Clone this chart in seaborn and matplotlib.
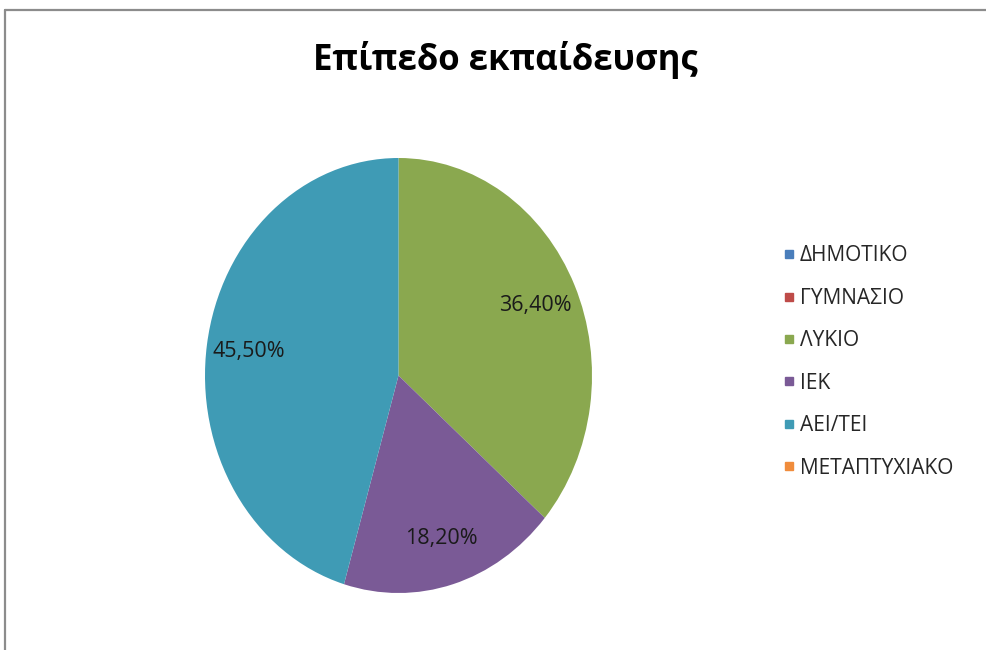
import matplotlib
matplotlib.use("Agg")
import matplotlib.pyplot as plt
import seaborn as sns
from matplotlib.lines import Line2D

# data
categories = ["ΔΗΜΟΤΙΚΟ", "ΓΥΜΝΑΣΙΟ", "ΛΥΚΙΟ", "ΙΕΚ", "ΑΕΙ/ΤΕΙ", "ΜΕΤΑΠΤΥΧΙΑΚΟ"]
shares = [0.0, 0.0, 36.4, 18.2, 45.5, 0.0]
colors = ["#4a7ebb", "#be4b48", "#8aa84f", "#7a5a96", "#3f9bb5", "#f08c3c"]
title = "Επίπεδο εκπαίδευσης"

sns.set_theme(style="white")
plt.rcParams["font.family"] = ["Open Sans", "DejaVu Sans"]

fig = plt.figure(figsize=(9.87, 6.5), dpi=100)
fig.patch.set_facecolor("white")

# pie is slightly taller than wide in the original, so no equal aspect
ax = fig.add_axes([205 / 987, 1 - 593 / 650, 387 / 987, 435 / 650])
wedges, texts, autotexts = ax.pie(
    shares, colors=colors, startangle=90, counterclock=False,
    autopct="%1.1f", pctdistance=0.78,
    wedgeprops=dict(linewidth=0),
    textprops=dict(fontsize=15.5, color="#1a1a1a"),
)
for t, v in zip(autotexts, shares):
    t.set_text("" if v == 0 else f"{v:.2f}%".replace(".", ","))
ax.set_xlim(-1, 1)
ax.set_ylim(-1, 1)
ax.set_aspect("auto")
ax.axis("off")

fig.text(505 / 987, 1 - 60 / 650, title, ha="center", va="center",
         fontsize=25, fontweight="bold", color="black")

handles = [Line2D([0], [0], marker="s", linestyle="none", markersize=6,
                  markerfacecolor=c, markeredgecolor=c) for c in colors]
fig.legend(handles, categories, loc="center left",
           bbox_to_anchor=(783 / 987, 1 - 362 / 650), frameon=False,
           fontsize=15, labelspacing=1.03, handlelength=0.6,
           handletextpad=0.2, borderpad=0, borderaxespad=0)

# chart-area border (top and left edges visible)
fig.add_artist(Line2D([5.5 / 987, 1.0], [1 - 10 / 650, 1 - 10 / 650],
                      color="#8c8c8c", linewidth=1.6, transform=fig.transFigure))
fig.add_artist(Line2D([5.5 / 987, 5.5 / 987], [0.0, 1 - 10 / 650],
                      color="#8c8c8c", linewidth=1.6, transform=fig.transFigure))

fig.savefig("out.png", dpi=100, facecolor="white")
